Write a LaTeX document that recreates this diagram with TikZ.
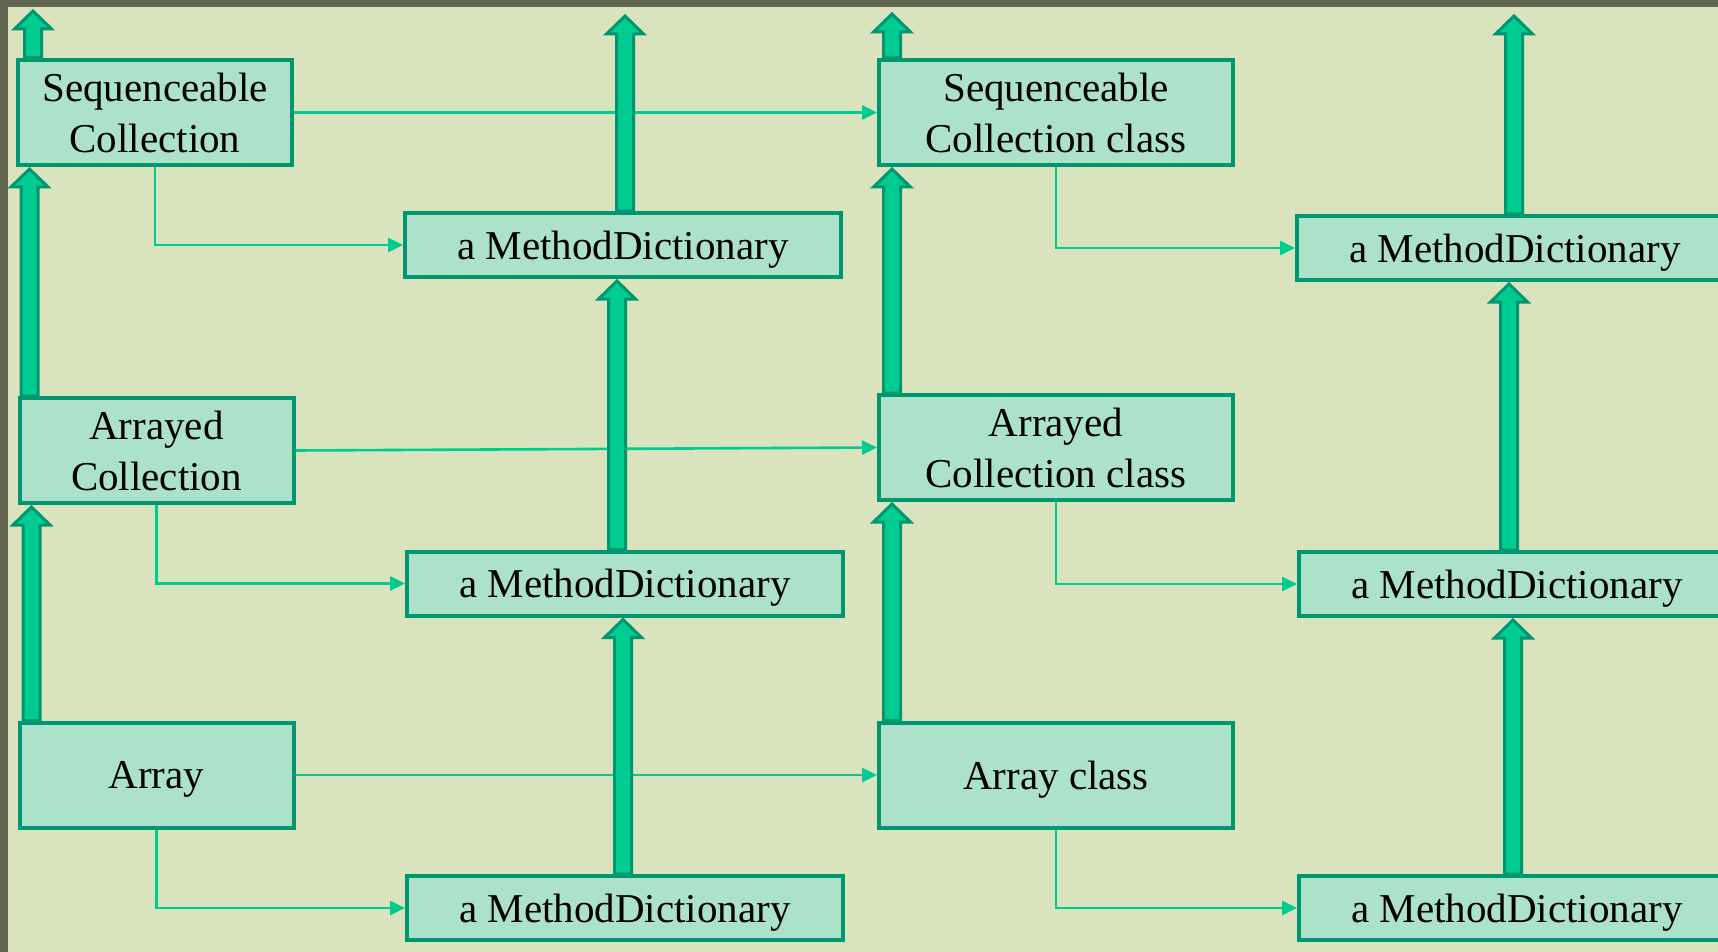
\documentclass[tikz,border=0pt]{standalone}
\usepackage{fontspec}
\setmainfont{Liberation Serif}
\usepackage{tikz}
\usetikzlibrary{calc}
\usetikzlibrary{arrows.meta}
\definecolor{sfondo}{RGB}{217,227,190}
\definecolor{cornice}{RGB}{99,102,80}
\definecolor{riempi}{RGB}{171,226,201}
\definecolor{bordo}{RGB}{0,150,112}
\definecolor{verde}{RGB}{0,204,146}
\tikzstyle{classe} = [rectangle, minimum width=137pt, minimum height=52.5pt, text centered, align=center, draw=bordo, fill=riempi, line width=2pt, font=\fontsize{20.5}{25.5}\selectfont]
\tikzstyle{metaclasse} = [classe, minimum width=177pt]
\tikzstyle{dizionario} = [classe, minimum width=218pt, minimum height=32pt, text depth=0pt]
\tikzstyle{freccia} = [draw=verde, line width=1.3pt, -{Triangle[length=7.5pt,width=7pt]}]
\tikzstyle{grossa} = [draw=bordo, fill=verde, line width=1.5pt, line join=miter]
\newcommand{\sale}[2]{\draw[grossa] let \p1=#1, \p2=#2 in
  (\x1-4.25pt,\y1) -- (\x1-4.25pt,\y2-10pt) -- (\x1-9.25pt,\y2-10pt) -- (\x1,\y2-1pt)
  -- (\x1+9.25pt,\y2-10pt) -- (\x1+4.25pt,\y2-10pt) -- (\x1+4.25pt,\y1) -- cycle;}

\begin{document}
\begin{tikzpicture}[x=0.5pt,y=-0.5pt]
	\useasboundingbox (0,0) rectangle (1718,952);
	\fill[sfondo] (0,0) rectangle (1718,952);
	\fill[cornice] (0,0) rectangle (1718,7);
	\fill[cornice] (0,0) rectangle (8,952);
	\node (c1) at (155,112.5) [classe] {Sequenceable\\Collection};
	\node (c2) at (156.5,450.5) [classe] {Arrayed\\Collection};
	\node (c3) at (156.5,775) [classe, text depth=0pt] {Array};
	\node (d1) at (623,245) [dizionario] {a MethodDictionary};
	\node (d2) at (625,583.5) [dizionario] {a MethodDictionary};
	\node (d3) at (625,908) [dizionario] {a MethodDictionary};
	\node (k1) at (1056,112.5) [metaclasse] {Sequenceable\\Collection class};
	\node (k2) at (1056,447.5) [metaclasse] {Arrayed\\Collection class};
	\node (k3) at (1056,775) [metaclasse, text depth=0pt] {Array class};
	\node (m1) at (1515,248) [dizionario] {a MethodDictionary};
	\node (m2) at (1517,584) [dizionario] {a MethodDictionary};
	\node (m3) at (1517,908) [dizionario] {a MethodDictionary};
	\coordinate (t1) at (33,9);
	\coordinate (t2) at (625,14);
	\coordinate (t3) at (892,12);
	\coordinate (t4) at (1514,14);
	\draw[freccia] (c1.east) -- (k1.west);
	\draw[freccia] (c2.east) -- (k2.west);
	\draw[freccia] (c3.east) -- (k3.west);
	\draw[freccia] (c1.south) |- (d1.west);
	\draw[freccia] (c2.south) |- (d2.west);
	\draw[freccia] (c3.south) |- (d3.west);
	\draw[freccia] (k1.south) |- (m1.west);
	\draw[freccia] (k2.south) |- (m2.west);
	\draw[freccia] (k3.south) |- (m3.west);
	\sale{([xshift=8.5pt]c1.north west)}{(t1)}
	\sale{([xshift=6pt]c2.north west)}{(c1.south)}
	\sale{([xshift=7pt]c3.north west)}{(c2.south)}
	\sale{([xshift=1pt]d1.north)}{(t2)}
	\sale{([xshift=-4pt]d2.north)}{(d1.south)}
	\sale{([xshift=-1pt]d3.north)}{(d2.south)}
	\sale{([xshift=7.5pt]k1.north west)}{(t3)}
	\sale{([xshift=7.5pt]k2.north west)}{(k1.south)}
	\sale{([xshift=7.5pt]k3.north west)}{(k2.south)}
	\sale{([xshift=-0.5pt]m1.north)}{(t4)}
	\sale{([xshift=-4pt]m2.north)}{(m1.south)}
	\sale{([xshift=-2pt]m3.north)}{(m2.south)}
\end{tikzpicture}
\end{document}
